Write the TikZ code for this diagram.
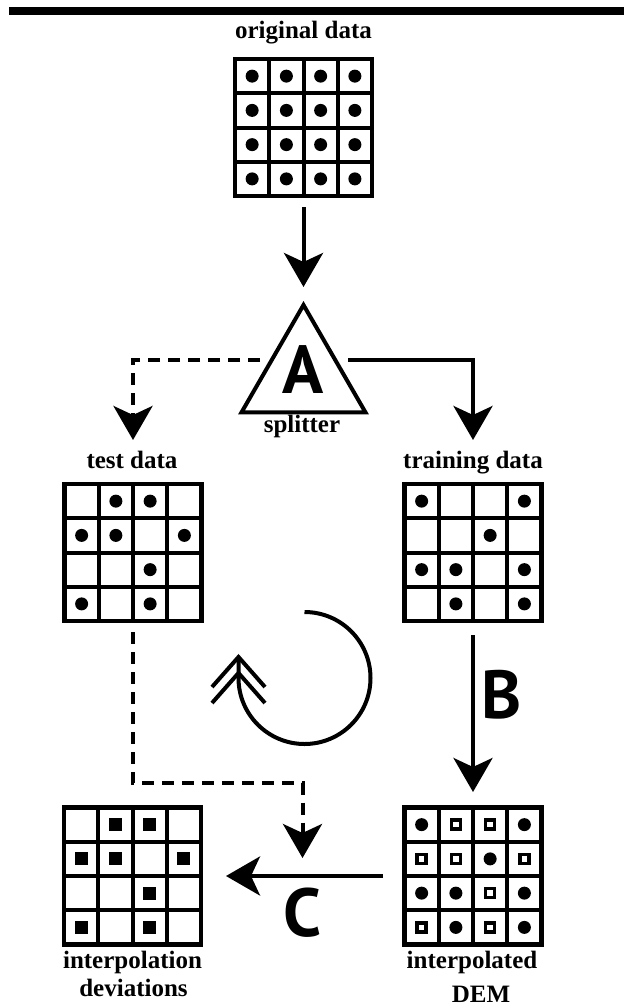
\documentclass[tikz,border=0pt]{standalone}
\usepackage{fontspec}
\setmainfont{Liberation Serif}
\newfontfamily\letterfont{PT Sans}
\usetikzlibrary{arrows.meta,shapes.geometric}
\tikzset{
  gridbox/.style={draw, line width=4.5pt, minimum size=137pt, inner sep=0pt, outer sep=0pt},
  gline/.style={line width=4pt},
  lab/.style={font=\fontsize{25}{25}\selectfont\bfseries, inner sep=0pt, anchor=base},
  letter/.style={font=\letterfont\bfseries\fontsize{68}{68}\selectfont, inner sep=0pt, anchor=base},
  arr/.style={line width=4pt, -{Stealth[length=34pt, width=39pt, inset=9pt]}},
  dashline/.style={dash pattern=on 12pt off 8pt},
  splitbox/.style={regular polygon, regular polygon sides=3, draw, line width=4pt, minimum size=143pt, inner sep=0pt, outer sep=0pt},
}
\newcommand\gridin[1]{%
  \foreach \k in {-34.25,0,34.25}{%
    \draw[gline] ([xshift=\k pt]#1.north) -- ([xshift=\k pt]#1.south);
    \draw[gline] ([yshift=\k pt]#1.west) -- ([yshift=\k pt]#1.east);
  }}
\newcommand\griddots[2]{%
  \foreach \c/\r in {#2}{%
    \pgfmathsetmacro\xx{(\c-2.5)*34.25}\pgfmathsetmacro\yy{(\r-2.5)*34.25}%
    \fill ([shift={(\xx,\yy)}]#1.center) circle (6.5pt);
  }}
\newcommand\gridhollow[2]{%
  \foreach \c/\r in {#2}{%
    \pgfmathsetmacro\xx{(\c-2.5)*34.25}\pgfmathsetmacro\yy{(\r-2.5)*34.25}%
    \draw[line width=3.5pt] ([shift={(\xx,\yy)}]#1.center) +(-4.5,-4.5) rectangle +(4.5,4.5);
  }}
\newcommand\gridsquares[2]{%
  \foreach \c/\r in {#2}{%
    \pgfmathsetmacro\xx{(\c-2.5)*34.25}\pgfmathsetmacro\yy{(\r-2.5)*34.25}%
    \fill ([shift={(\xx,\yy)}]#1.center) +(-6.5,-6.5) rectangle +(6.5,6.5);
  }}
\begin{document}
\begin{tikzpicture}[x=1pt,y=-1pt]
\useasboundingbox (0,0) rectangle (624,1007);
% top bar
\fill (9,7) rectangle (624,15);

% grids
\node[gridbox] (orig) at (303.5,127.5) {};
\node[gridbox] (test) at (133,552.5) {};
\node[gridbox] (train) at (473,552.5) {};
\node[gridbox] (dem) at (473,876) {};
\node[gridbox] (dev) at (132.5,876) {};
\gridin{orig}\gridin{test}\gridin{train}\gridin{dem}\gridin{dev}

\griddots{orig}{1/1,2/1,3/1,4/1,1/2,2/2,3/2,4/2,1/3,2/3,3/3,4/3,1/4,2/4,3/4,4/4}
\griddots{test}{2/1,3/1,1/2,2/2,4/2,3/3,1/4,3/4}
\griddots{train}{1/1,4/1,3/2,1/3,2/3,4/3,2/4,4/4}
\griddots{dem}{1/1,4/1,3/2,1/3,2/3,4/3,2/4,4/4}
\gridhollow{dem}{2/1,3/1,1/2,2/2,4/2,3/3,1/4,3/4}
\gridsquares{dev}{2/1,3/1,1/2,2/2,4/2,3/3,1/4,3/4}

% splitter
\node[splitbox] (split) at (303.5,376.5) {};
\node[letter] (la) at (303.5,393) {A};

% labels
\node[lab] (lorig) at (303.5,38) {original data};
\node[lab] (lsplit) at (302,432) {splitter};
\node[lab] (ltest) at (132,468) {test data};
\node[lab] (ltrain) at (473,468) {training data};
\node[lab] (ldem1) at (472,968) {interpolated};
\node[lab] (ldem2) at (481,1002) {DEM};
\node[lab] (ldev1) at (132.5,968) {interpolation};
\node[lab] (ldev2) at (133.5,996) {deviations};
\node[letter] (lb) at (501.5,718) {B};
\node[letter] (lc) at (303,936) {C};

% connectors
\coordinate (dturn) at (302.5,783);
\coordinate (dtip) at (302.5,858);
\draw[arr] ([yshift=-11pt]orig.south) -- ([yshift=18pt]split.north);
\draw[arr, dashline] ([shift={(-43.5,-16.5)}]split.center) -| ([yshift=44pt]test.north);
\draw[arr] ([shift={(44.5,-16.5)}]split.center) -| ([yshift=44pt]train.north);
\draw[arr, dashline] ([yshift=-11pt]test.south) |- (dturn) -- (dtip);
\draw[arr] ([yshift=-14pt]train.south) -- ([yshift=15.5pt]dem.north);
\draw[arr] ([xshift=-21.5pt]dem.west) -- ([xshift=25pt]dev.east);

% cycle symbol
\draw[line width=4pt] (304.5,612) arc[start angle=-90, end angle=180, radius=66] -- ++(0,-20);
\draw[line width=4pt] (212,687) -- (238.5,657) -- (265,687);
\draw[line width=4pt] (212,703) -- (238.5,673) -- (265,703);
\end{tikzpicture}
\end{document}
